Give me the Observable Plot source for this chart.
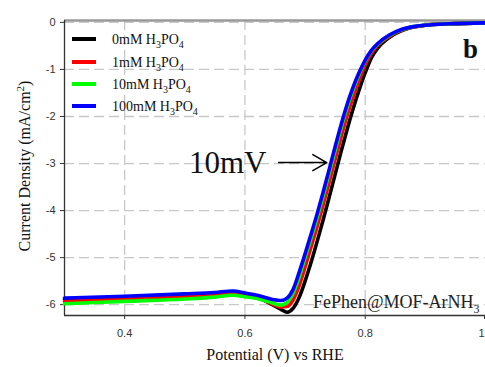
<!DOCTYPE html>
<html>
<head>
<meta charset="utf-8">
<script src="https://cdn.jsdelivr.net/npm/d3@7"></script>
<script src="https://cdn.jsdelivr.net/npm/@observablehq/plot@0.6"></script>
<style>
  html, body { margin: 0; padding: 0; background: #fff; }
</style>
</head>
<body>
<div id="chart"></div>
<script>
// ---- data ----
const potential = [0.30, 0.40, 0.50, 0.55, 0.58, 0.60, 0.62, 0.64, 0.66, 0.67, 0.68, 0.69, 0.70, 0.71, 0.72, 0.73, 0.74, 0.75, 0.76, 0.77, 0.78, 0.79, 0.80, 0.81, 0.82, 0.84, 0.86, 0.88, 0.90, 0.94, 1.00];
const current0mM   = [-5.89, -5.85, -5.80, -5.78, -5.75, -5.79, -5.84, -5.96, -6.10, -6.16, -6.08, -5.85, -5.50, -5.10, -4.66, -4.20, -3.72, -3.23, -2.74, -2.27, -1.83, -1.43, -1.07, -0.76, -0.56, -0.32, -0.18, -0.10, -0.06, -0.03, -0.01];
const current1mM   = [-5.93, -5.88, -5.83, -5.80, -5.77, -5.81, -5.86, -5.95, -6.05, -6.04, -5.90, -5.60, -5.20, -4.77, -4.34, -3.88, -3.40, -2.91, -2.43, -1.98, -1.58, -1.22, -0.90, -0.66, -0.50, -0.30, -0.17, -0.10, -0.06, -0.03, -0.01];
const current10mM  = [-5.98, -5.93, -5.88, -5.84, -5.80, -5.83, -5.87, -5.94, -6.01, -5.95, -5.76, -5.42, -5.00, -4.58, -4.15, -3.69, -3.21, -2.72, -2.24, -1.80, -1.42, -1.10, -0.82, -0.61, -0.47, -0.28, -0.16, -0.09, -0.06, -0.03, -0.01];
const current100mM = [-5.86, -5.82, -5.77, -5.74, -5.71, -5.75, -5.80, -5.87, -5.91, -5.86, -5.68, -5.32, -4.92, -4.50, -4.07, -3.61, -3.13, -2.64, -2.17, -1.74, -1.37, -1.06, -0.80, -0.60, -0.46, -0.27, -0.15, -0.09, -0.06, -0.03, -0.01];

const seriesNames = ["0mM", "1mM", "10mM", "100mM"];
const seriesColors = ["#000000", "#ff0000", "#00ff00", "#0000ff"];
const seriesCurrents = [current0mM, current1mM, current10mM, current100mM];

const xTicks = [0.4, 0.6, 0.8, 1.0];
const xTickLabels = ["0.4", "0.6", "0.8", "1"];
const yTicks = [0, -1, -2, -3, -4, -5, -6];
const yTickLabels = ["0", "-1", "-2", "-3", "-4", "-5", "-6"];
const xDomain = [0.3, 1.0];
const yDomain = [-6.23, 0.04];

// annotation: 10mV shift arrow
const arrowFrom = [0.656];
const arrowTo = [0.736];
const arrowAt = [-2.98];

// ---- build table ----
const rows = [];
seriesNames.forEach((name, s) => {
  potential.forEach((p, i) => rows.push({series: name, potential: p, current: seriesCurrents[s][i]}));
});

const serif = "'Liberation Serif', 'Times New Roman', serif";
const fmtX = d => xTickLabels[xTicks.indexOf(d)];

const svg = Plot.plot({
  width: 485,
  height: 367,
  marginLeft: 64,
  marginRight: 0,
  marginTop: 20,
  marginBottom: 52,
  x: {domain: xDomain},
  y: {domain: yDomain},
  color: {domain: seriesNames, range: seriesColors},
  style: {fontFamily: "'Liberation Sans', Arial, sans-serif", fontSize: "11px", color: "#333", background: "#fff", overflow: "visible"},
  marks: [
    Plot.gridX(xTicks.slice(0, 3), {stroke: "#c8c8c8", strokeOpacity: 1, strokeWidth: 1.3, strokeDasharray: "10,5"}),
    Plot.gridY(yTicks, {stroke: "#c8c8c8", strokeOpacity: 1, strokeWidth: 1.3, strokeDasharray: "10,5"}),
    Plot.ruleY([yDomain[1]], {stroke: "#999", strokeWidth: 2.5}),
    Plot.ruleX([xDomain[0]], {stroke: "#333", strokeWidth: 1.3}),
    Plot.ruleY([yDomain[0]], {stroke: "#333", strokeWidth: 1.3}),
    Plot.axisX(xTicks.slice(0, 3), {tickSize: 4, tickPadding: 10, label: null, tickFormat: fmtX}),
    Plot.axisX(xTicks.slice(3), {tickSize: 4, tickPadding: 10, label: null, tickFormat: fmtX, textAnchor: "end", dx: -1}),
    Plot.axisY(yTicks, {tickSize: 4, tickPadding: 5, label: null, tickFormat: d => yTickLabels[yTicks.indexOf(d)]}),
    Plot.line(rows, {x: "potential", y: "current", z: "series", stroke: "series", strokeWidth: 3.6, curve: "monotone-x"}),
    Plot.arrow(arrowAt, {x1: arrowFrom, x2: arrowTo, y1: d => d, y2: d => d, stroke: "#000", strokeWidth: 1.5, headLength: 18, bend: 0})
  ]
});

const g = d3.select(svg);

// axis titles
g.append("text")
  .attr("x", 275).attr("y", 360)
  .attr("text-anchor", "middle")
  .attr("font-family", serif).attr("font-size", 16).attr("fill", "#111")
  .text("Potential (V) vs RHE");

const yl = g.append("text")
  .attr("transform", "translate(30,166) rotate(-90)")
  .attr("text-anchor", "middle")
  .attr("font-family", serif).attr("font-size", 16).attr("fill", "#111");
yl.append("tspan").text("Current Density (mA/cm");
yl.append("tspan").attr("dy", -6).attr("font-size", 11).text("2");
yl.append("tspan").attr("dy", 6).text(")");

// legend
seriesNames.forEach((name, i) => {
  const y = [39, 62, 84, 106][i];
  g.append("line").attr("x1", 72).attr("x2", 96).attr("y1", y).attr("y2", y)
    .attr("stroke", seriesColors[i]).attr("stroke-width", 4);
  const t = g.append("text").attr("x", 112).attr("y", y + 4.5).attr("text-anchor", "start")
    .attr("font-family", serif).attr("font-size", 14).attr("fill", "#111");
  t.append("tspan").text(name + " H");
  t.append("tspan").attr("dy", 4).attr("font-size", 10).text("3");
  t.append("tspan").attr("dy", -4).text("PO");
  t.append("tspan").attr("dy", 4).attr("font-size", 10).text("4");
});

// panel letter
g.append("text").attr("x", 463).attr("y", 58).attr("text-anchor", "start")
  .attr("font-family", serif).attr("font-size", 27).attr("font-weight", "bold").attr("fill", "#111")
  .text("b");

// 10mV label
g.append("text").attr("x", 189).attr("y", 173).attr("text-anchor", "start")
  .attr("font-family", serif).attr("font-size", 31).attr("fill", "#111")
  .text("10mV");

// sample label
const sl = g.append("text").attr("x", 313).attr("y", 308).attr("text-anchor", "start")
  .attr("font-family", serif).attr("font-size", 18).attr("fill", "#222");
sl.append("tspan").text("FePhen@MOF-ArNH");
sl.append("tspan").attr("dy", 5).attr("font-size", 12).text("3");

document.getElementById("chart").appendChild(svg);
</script>
</body>
</html>
